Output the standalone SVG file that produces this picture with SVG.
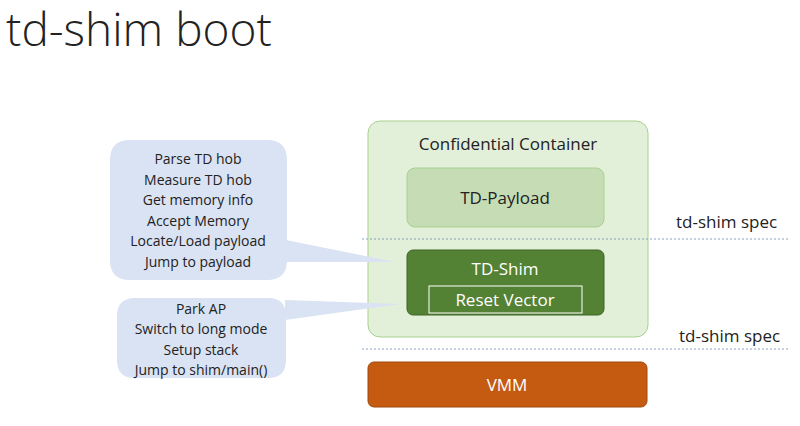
<svg xmlns="http://www.w3.org/2000/svg" width="800" height="426" viewBox="0 0 800 426">
<style>
text{font-family:"Open Sans","Liberation Sans",sans-serif;}
.c{font-size:14px;fill:#222;text-anchor:middle}
.w{fill:#fff;text-anchor:middle;font-size:17px}
.s{font-size:17px;fill:#222}
.d{stroke:#8aa0c0;stroke-width:1;stroke-dasharray:2,2;fill:none}
.co{fill:#dae3f3}
</style>
<rect width="800" height="426" fill="#fff"/>
<text x="6" y="46" font-size="46" font-weight="300" fill="#222">td-shim boot</text>
<g id="container"><rect x="368" y="121" width="280" height="216" rx="12" fill="#e2efd9" stroke="#a9d18e"/>
<text x="508" y="150" font-size="17" fill="#222" text-anchor="middle">Confidential Container</text></g>
<g id="payload"><rect x="407" y="168" width="197" height="59" rx="8" fill="#c5dcb5" stroke="#a9d18e"/>
<text x="505" y="204" font-size="17" fill="#222" text-anchor="middle">TD-Payload</text></g>
<g id="shim"><rect x="407" y="250" width="197" height="65" rx="6" fill="#548235" stroke="#3f6427"/>
<text class="w" x="505" y="275">TD-Shim</text></g>
<g id="reset"><rect x="429" y="286" width="153" height="27" fill="#548235" stroke="#fff"/>
<text class="w" x="505" y="306">Reset Vector</text></g>
<g id="vmm"><rect x="368" y="362" width="279" height="45" rx="6" fill="#c55a11" stroke="#a04a0e"/>
<text class="w" x="507" y="391">VMM</text></g>
<g id="connectors"><line class="d" x1="362" y1="239" x2="790" y2="239"/><line class="d" x1="362" y1="349" x2="790" y2="349"/></g>
<g id="callout1"><path class="co" d="M130,140 H267 Q287,140 287,160 V260 Q287,280 267,280 H130 Q110,280 110,260 V160 Q110,140 130,140 Z M286,240 L395,262 L286,262 Z"/>
<text class="c" x="198" y="164">Parse TD hob</text><text class="c" x="198" y="185">Measure TD hob</text><text class="c" x="198" y="205">Get memory info</text><text class="c" x="198" y="226">Accept Memory</text><text class="c" x="198" y="246">Locate/Load payload</text><text class="c" x="198" y="267">Jump to payload</text></g>
<g id="callout2"><path class="co" d="M135,298 H268 Q286,298 286,316 V360 Q286,378 268,378 H135 Q117,378 117,360 V316 Q117,298 135,298 Z M285,300 L400,304 L285,320 Z"/>
<text class="c" x="201" y="314">Park AP</text><text class="c" x="201" y="334">Switch to long mode</text><text class="c" x="201" y="355">Setup stack</text><text class="c" x="201" y="375">Jump to shim/main()</text></g>
<text class="s" x="676" y="228">td-shim spec</text>
<text class="s" x="679" y="342">td-shim spec</text>
</svg>
